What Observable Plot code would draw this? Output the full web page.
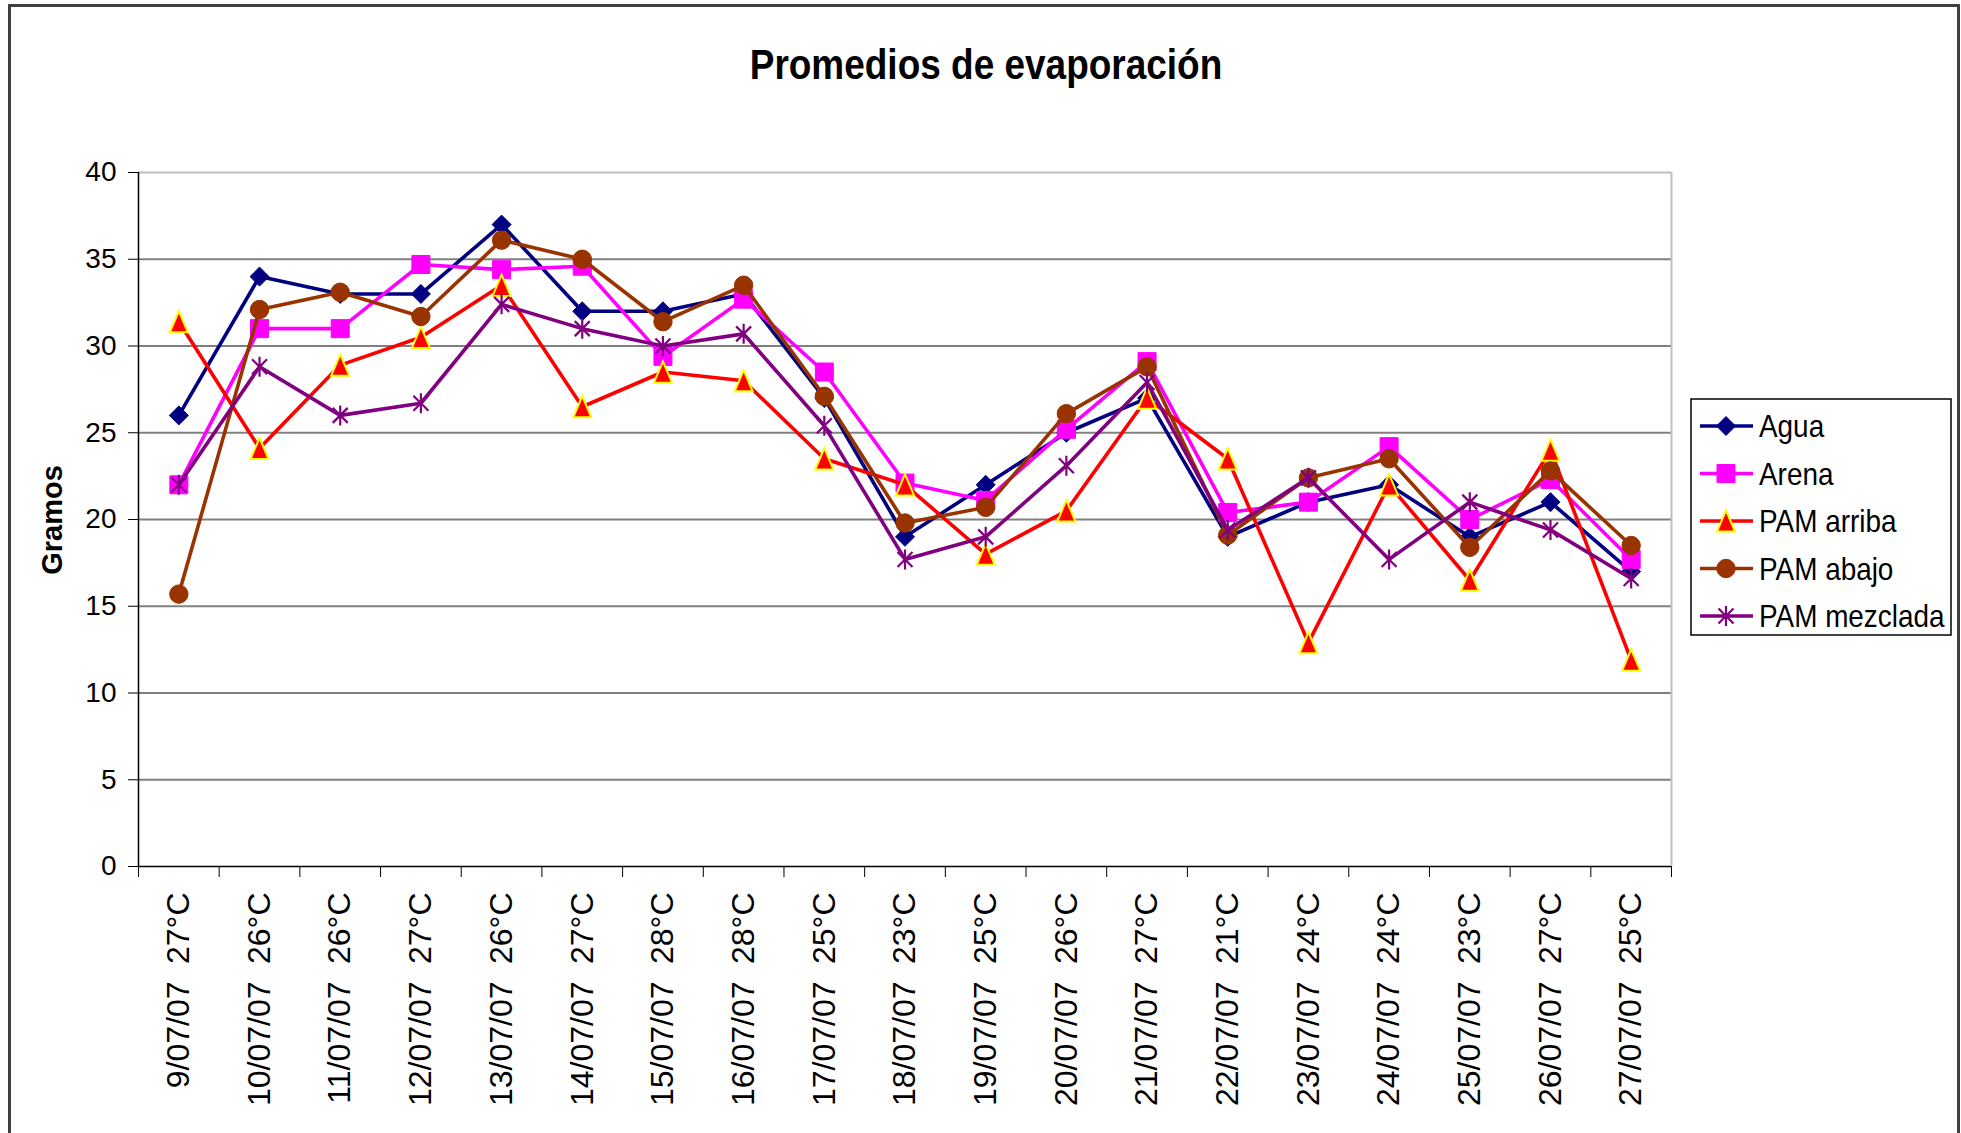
<!DOCTYPE html>
<html>
<head>
<meta charset="utf-8">
<script src="https://cdn.jsdelivr.net/npm/d3@7"></script>
<script src="https://cdn.jsdelivr.net/npm/@observablehq/plot@0.6"></script>
<style>
  html, body { margin: 0; padding: 0; background: #fff; }
  #wrap { position: relative; width: 1961px; height: 1133px; overflow: hidden; background: #fff;
          font-family: "Liberation Sans", Arial, sans-serif; }
  #border { position: absolute; left: 8px; top: 4px; width: 1946px; height: 1200px;
            border-left: 3px solid #404040; border-top: 3px solid #404040; border-right: 3px solid #404040; }
  #chart { position: absolute; left: 0; top: 0; }
  #overlay { position: absolute; left: 0; top: 0; pointer-events: none; }
</style>
</head>
<body>
<div id="wrap">
  <div id="border"></div>
  <div id="chart"></div>
  <svg id="overlay" width="1961" height="1133"></svg>
</div>
<script>
// ---------- data ----------
const titleText = "Promedios de evaporación";
const yLabel = "Gramos";
const dates = ["9/07/07","10/07/07","11/07/07","12/07/07","13/07/07","14/07/07","15/07/07","16/07/07","17/07/07","18/07/07","19/07/07","20/07/07","21/07/07","22/07/07","23/07/07","24/07/07","25/07/07","26/07/07","27/07/07"];
const temps = ["27°C","26°C","26°C","27°C","26°C","27°C","28°C","28°C","25°C","23°C","25°C","26°C","27°C","21°C","24°C","24°C","23°C","27°C","25°C"];
const yTicks = [0, 5, 10, 15, 20, 25, 30, 35, 40];

const agua     = [26.0, 34.0, 33.0, 33.0, 37.0, 32.0, 32.0, 33.0, 27.0, 19.0, 22.0, 25.0, 27.0, 19.0, 21.0, 22.0, 19.0, 21.0, 17.0];
const arena    = [22.0, 31.0, 31.0, 34.7, 34.4, 34.6, 29.4, 32.7, 28.5, 22.1, 21.1, 25.2, 29.1, 20.4, 21.0, 24.2, 20.0, 22.3, 17.7];
const arriba   = [31.4, 24.1, 28.9, 30.5, 33.5, 26.5, 28.5, 28.0, 23.5, 22.0, 18.0, 20.5, 27.0, 23.5, 12.9, 22.0, 16.5, 24.0, 11.9];
const abajo    = [15.7, 32.1, 33.1, 31.7, 36.1, 35.0, 31.4, 33.5, 27.1, 19.8, 20.7, 26.1, 28.8, 19.1, 22.4, 23.5, 18.4, 22.8, 18.5];
const mezclada = [22.0, 28.8, 26.0, 26.7, 32.4, 31.0, 30.0, 30.7, 25.4, 17.7, 19.0, 23.1, 27.9, 19.4, 22.4, 17.7, 21.0, 19.4, 16.6];

const seriesNames  = ["Agua", "Arena", "PAM arriba", "PAM abajo", "PAM mezclada"];
const seriesValues = [agua, arena, arriba, abajo, mezclada];
const seriesColors = ["#000080", "#FF00FF", "#FF0000", "#993300", "#800080"];

// ---------- symbols ----------
const rad = size => Math.sqrt(size / Math.PI);
const symDiamond = {draw(c, s) { const r = rad(s); c.moveTo(0, -r); c.lineTo(r, 0); c.lineTo(0, r); c.lineTo(-r, 0); c.closePath(); }};
const symSquare  = {draw(c, s) { const r = rad(s); c.rect(-r, -r, 2 * r, 2 * r); }};
const symTri     = {draw(c, s) { const r = rad(s); c.moveTo(0, -1.18 * r); c.lineTo(r, 1.18 * r); c.lineTo(-r, 1.18 * r); c.closePath(); }};
const symCircle  = {draw(c, s) { const r = rad(s); c.moveTo(r, 0); c.arc(0, 0, r, 0, 2 * Math.PI); c.closePath(); }};
const symStar    = {draw(c, s) { const r = rad(s); const d = r * 0.75;
  c.moveTo(0, -r); c.lineTo(0, r); c.moveTo(-d, -d); c.lineTo(d, d); c.moveTo(-d, d); c.lineTo(d, -d); }};

const markerStyles = [
  {symbol: symDiamond, r: 9.5, fill: "#000080", stroke: "#000080", strokeWidth: 1},
  {symbol: symSquare,  r: 9.0, fill: "#FF00FF", stroke: "#FF00FF", strokeWidth: 1},
  {symbol: symTri,     r: 9.0, fill: "#FF0000", stroke: "#FFFF00", strokeWidth: 2},
  {symbol: symCircle,  r: 9.2, fill: "#993300", stroke: "#993300", strokeWidth: 1},
  {symbol: symStar,    r: 10,  fill: "none",    stroke: "#800080", strokeWidth: 2.2}
];

const idx = d3.range(dates.length);
const bounds = d3.range(dates.length + 1).map(i => i - 0.5);

const seriesMarks = [];
seriesValues.forEach((vals, k) => {
  const data = vals.map((v, i) => ({i, v}));
  seriesMarks.push(Plot.line(data, {x: "i", y: "v", stroke: seriesColors[k], strokeWidth: 3.6, strokeLinejoin: "round"}));
  seriesMarks.push(Plot.dot(data, {x: "i", y: "v", ...markerStyles[k]}));
});

const chart = Plot.plot({
  width: 1961,
  height: 1133,
  marginLeft: 138,
  marginRight: 290,
  marginTop: 172,
  marginBottom: 267,
  x: {type: "linear", domain: [-0.5, dates.length - 0.5], axis: null},
  y: {domain: [0, 40], axis: null},
  style: {fontFamily: "'Liberation Sans', Arial, sans-serif", background: "transparent", color: "#000"},
  marks: [
    Plot.ruleY(yTicks.filter(t => t > 0 && t < 40), {stroke: "#808080", strokeWidth: 2}),
    Plot.ruleY([40], {stroke: "#c0c0c0", strokeWidth: 2}),
    Plot.ruleX([dates.length - 0.5], {stroke: "#c0c0c0", strokeWidth: 2}),
    Plot.axisY({ticks: yTicks, tickSize: 10, tickPadding: 12, fontSize: 28, label: null, tickFormat: d => String(d)}),
    Plot.axisX({ticks: bounds, tickSize: 11, tickFormat: () => "", label: null}),
    Plot.axisX({ticks: idx, tickSize: 0, tickPadding: 26, tickRotate: -90, textAnchor: "end", lineAnchor: "middle",
                fontSize: 32, label: null, tickFormat: i => temps[i]}),
    Plot.axisX({ticks: idx, tickSize: 0, tickPadding: 115, tickRotate: -90, textAnchor: "end", lineAnchor: "middle",
                fontSize: 32, label: null, tickFormat: i => dates[i]}),
    Plot.ruleX([-0.5], {stroke: "#000", strokeWidth: 1.5, y1: 0, y2: 40}),
    Plot.ruleY([0], {stroke: "#000", strokeWidth: 1.5}),
    ...seriesMarks
  ]
});
document.getElementById("chart").appendChild(chart);

// ---------- overlay: title, y label, legend ----------
const ov = d3.select("#overlay").style("font-family", "'Liberation Sans', Arial, sans-serif");
ov.append("text")
  .attr("transform", "translate(986,79) scale(0.86,1)")
  .attr("text-anchor", "middle")
  .attr("font-weight", "bold")
  .attr("font-size", 43)
  .attr("fill", "#000")
  .text(titleText);

ov.append("text")
  .attr("transform", "translate(62,520) rotate(-90)")
  .attr("text-anchor", "middle")
  .attr("font-weight", "bold")
  .attr("font-size", 29)
  .attr("fill", "#000")
  .text(yLabel);

const lg = ov.append("g");
lg.append("rect").attr("x", 1691).attr("y", 399).attr("width", 260).attr("height", 236)
  .attr("fill", "#fff").attr("stroke", "#000").attr("stroke-width", 1.5);
seriesNames.forEach((name, k) => {
  const cy = 426 + k * 47.5;
  const row = lg.append("g");
  row.append("line").attr("x1", 1700).attr("x2", 1753).attr("y1", cy).attr("y2", cy)
    .attr("stroke", seriesColors[k]).attr("stroke-width", 3.6);
  const m = markerStyles[k];
  row.append("path")
    .attr("transform", `translate(1726,${cy})`)
    .attr("d", d3.symbol(m.symbol, m.r * m.r * Math.PI)())
    .attr("fill", m.fill).attr("stroke", m.stroke).attr("stroke-width", m.strokeWidth);
  row.append("text")
    .attr("transform", `translate(1759,${cy + 11}) scale(0.9,1)`)
    .attr("font-size", 31)
    .attr("fill", "#000")
    .text(name);
});
</script>
</body>
</html>
